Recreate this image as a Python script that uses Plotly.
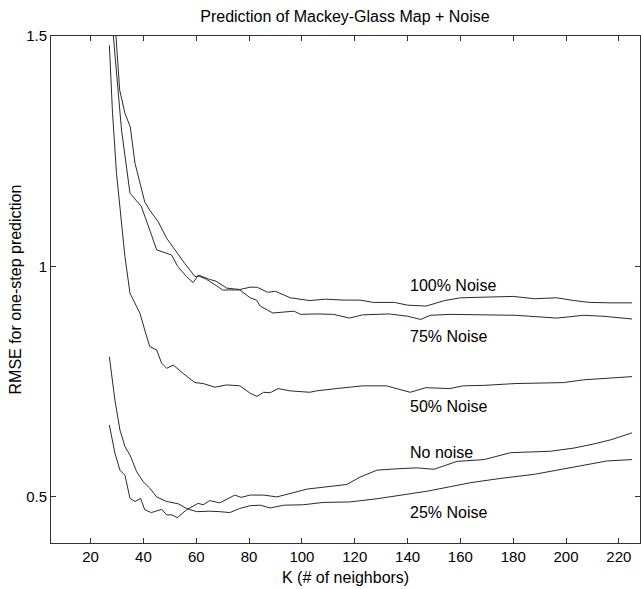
import plotly.graph_objects as go

# ---- data ----
k_noise100 = [29.6, 31, 33, 35, 36.8, 38.7, 40.5, 42.4, 45.6, 48.8, 51.9, 55.7, 59.5, 61.4, 65, 67.5, 71.5, 76.5, 80.4,
              83, 87, 90, 95.6, 103, 109, 116, 122, 127, 135, 140, 147, 154, 160, 169, 180, 188, 196.5, 203, 209, 217, 225]
rmse_noise100 = [1.5, 1.383, 1.332, 1.303, 1.224, 1.18, 1.14, 1.122, 1.097, 1.061, 1.036, 1.006, 0.978, 0.98, 0.972, 0.968,
                 0.953, 0.95, 0.955, 0.955, 0.944, 0.946, 0.932, 0.926, 0.929, 0.927, 0.927, 0.922, 0.922, 0.916, 0.914,
                 0.926, 0.932, 0.933, 0.935, 0.93, 0.932, 0.926, 0.922, 0.921, 0.921]

k_noise75 = [28.6, 31.7, 34.9, 38, 39.2, 42.4, 45, 50.6, 53, 56.3, 58.8, 60.7, 63.9, 67.7, 70, 76.5, 80.4, 82.8,
             84.2, 89, 97, 99.5, 105.7, 112, 118, 123, 133, 140, 145, 148.6, 156, 169, 181, 196.5, 206.6, 214, 225]
rmse_noise75 = [1.5, 1.296, 1.159, 1.137, 1.13, 1.079, 1.036, 1.025, 1.0, 0.978, 0.965, 0.98, 0.972, 0.958, 0.949, 0.949,
                0.932, 0.927, 0.914, 0.899, 0.903, 0.896, 0.897, 0.896, 0.888, 0.895, 0.897, 0.892, 0.885, 0.894,
                0.896, 0.895, 0.894, 0.888, 0.894, 0.892, 0.886]

k_noise50 = [27.1, 28.3, 29.8, 31.1, 33, 34.9, 38.7, 40.5, 42.4, 45, 46.9, 48.8, 51.3, 55, 59.5, 62.6, 67, 71.5, 76.5,
             80.4, 83, 85.5, 88, 91, 95.6, 103, 105.5, 113, 123, 132, 136, 141, 147, 156, 161, 169, 181, 199, 206.6, 214, 225]
rmse_noise50 = [1.48, 1.332, 1.202, 1.13, 1.021, 0.942, 0.898, 0.862, 0.826, 0.819, 0.79, 0.779, 0.786, 0.768, 0.748, 0.746,
                0.738, 0.743, 0.741, 0.725, 0.718, 0.727, 0.726, 0.735, 0.73, 0.727, 0.73, 0.735, 0.741, 0.741, 0.735,
                0.727, 0.737, 0.735, 0.741, 0.742, 0.746, 0.748, 0.754, 0.757, 0.761]

k_none = [27.1, 29.2, 31.1, 33, 34.9, 36.8, 38.9, 40.5, 43, 46.9, 48.8, 50.8, 52.8, 56.3, 60.7, 62.6, 65.1, 68.9, 74.6,
          77, 80.4, 85.5, 90.5, 95.6, 102, 109.5, 117, 122, 128.4, 136, 143.5, 150, 158.7, 169, 179, 194, 203, 210.6, 217, 225]
rmse_none = [0.656, 0.595, 0.558, 0.547, 0.497, 0.49, 0.497, 0.472, 0.466, 0.473, 0.461, 0.461, 0.455, 0.472, 0.486, 0.483,
             0.492, 0.487, 0.504, 0.499, 0.504, 0.504, 0.5, 0.507, 0.517, 0.522, 0.527, 0.543, 0.558, 0.561, 0.563,
             0.56, 0.577, 0.581, 0.596, 0.599, 0.606, 0.615, 0.624, 0.639]

k_noise25 = [27.1, 29.2, 31.1, 33, 34.9, 37.4, 39.9, 42.4, 45, 48.8, 53.2, 56.3, 60.1, 65.1, 68.9, 72.7, 76.5, 80.4,
             84.2, 88, 93, 100.6, 108, 118, 128.4, 137, 147, 156, 164, 175, 188, 196.5, 206.6, 215.5, 225]
rmse_noise25 = [0.804, 0.71, 0.645, 0.609, 0.591, 0.555, 0.533, 0.519, 0.5, 0.49, 0.485, 0.475, 0.468, 0.469, 0.468,
                0.466, 0.475, 0.481, 0.482, 0.476, 0.482, 0.483, 0.488, 0.489, 0.496, 0.504, 0.512, 0.522, 0.531,
                0.54, 0.549, 0.558, 0.568, 0.578, 0.581]

labels = ["100% Noise", "75% Noise", "50% Noise", "No noise", "25% Noise"]
label_x = [140, 140, 140, 140, 140]
label_y = [0.958, 0.847, 0.697, 0.597, 0.467]

x_ticks = [20, 40, 60, 80, 100, 120, 140, 160, 180, 200, 220]
y_ticks = [0.5, 1, 1.5]
y_ticktext = ["0.5", "1", "1.5"]

FONT = "Liberation Sans, Arial, Helvetica, sans-serif"
FS = 16
TFS = 15
LINE = "#2a2a2a"

W, H = 641, 589
ML, MR, MT, MB = 51, 1, 36, 46
PW, PH = W - ML - MR, H - MT - MB

fig = go.Figure()
for kx, ry in [(k_noise100, rmse_noise100), (k_noise75, rmse_noise75), (k_noise50, rmse_noise50),
               (k_none, rmse_none), (k_noise25, rmse_noise25)]:
    fig.add_trace(go.Scatter(x=kx, y=ry, mode="lines", line=dict(color=LINE, width=1), showlegend=False,
                             hoverinfo="skip"))

for t, xv, yv in zip(labels, label_x, label_y):
    fig.add_annotation(x=xv, y=yv, xref="x", yref="y", text=t, showarrow=False, xanchor="left",
                       yanchor="middle", font=dict(family=FONT, size=FS, color="black"))

# axis titles as annotations for exact placement
fig.add_annotation(x=0.5, y=-(577 - (H - MB)) / PH, xref="paper", yref="paper", text="K (# of neighbors)",
                   showarrow=False, xanchor="center", yanchor="middle",
                   font=dict(family=FONT, size=FS, color="black"))
fig.add_annotation(x=(15 - ML) / PW, y=0.5, xref="paper", yref="paper", text="RMSE for one-step prediction",
                   showarrow=False, xanchor="center", yanchor="middle", textangle=-90,
                   font=dict(family=FONT, size=FS, color="black"))

axis_common = dict(showline=True, linecolor="#333333", linewidth=1, mirror="ticks", ticks="inside",
                   ticklen=5, tickcolor="#333333", showgrid=False, zeroline=False, automargin=False,
                   tickfont=dict(family=FONT, size=TFS, color="black"))

fig.update_xaxes(range=[5, 228], tickvals=x_ticks, **axis_common)
fig.update_yaxes(range=[0.4, 1.5], tickvals=y_ticks, ticktext=y_ticktext, **axis_common)

fig.update_layout(
    width=W, height=H,
    margin=dict(l=ML, r=MR, t=MT, b=MB),
    paper_bgcolor="white", plot_bgcolor="white",
    title=dict(text="Prediction of Mackey-Glass Map + Noise", x=(345 / W), xanchor="center", y=1 - 16 / H,
               yanchor="middle", font=dict(family=FONT, size=FS, color="black")),
)

fig.write_html("out.html", config={"displayModeBar": False},
               post_script="document.body.style.margin='0px';document.body.style.overflow='hidden';")
